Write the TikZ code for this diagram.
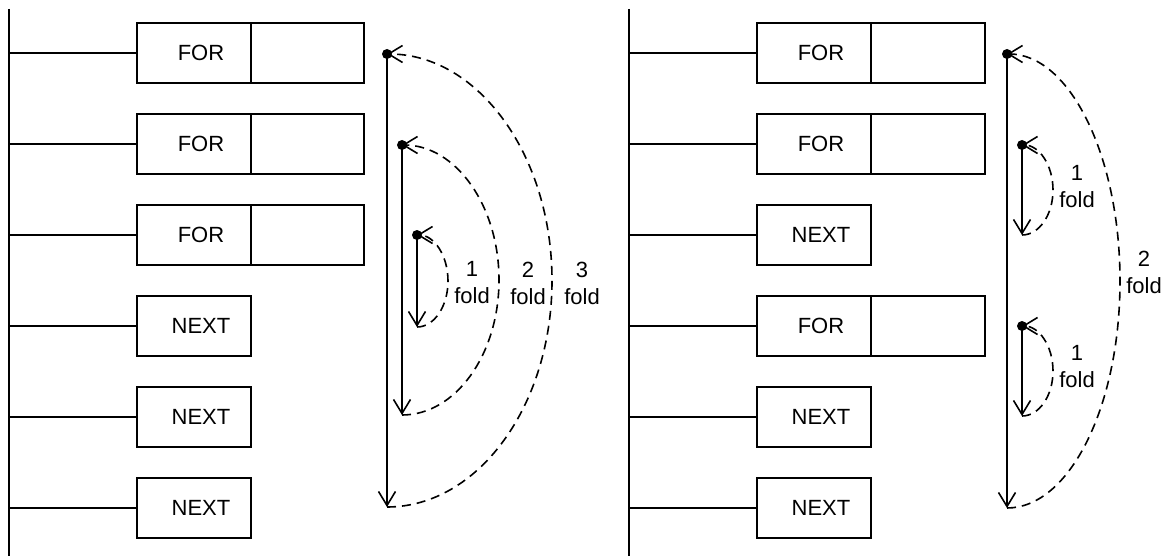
\documentclass[tikz,border=0pt]{standalone}
\usepackage{fontspec}
\setmainfont{Liberation Sans}
\usetikzlibrary{arrows.meta}
\begin{document}
\begin{tikzpicture}[x=1pt,y=1pt,
  every node/.style={font=\fontsize{22}{27}\selectfont},
  wire/.style={line width=1.6pt},
  cell/.style={draw,line width=1.6pt,minimum width=114pt,minimum height=60pt,inner sep=0pt,anchor=center},
  flow/.style={line width=1.6pt,-{Straight Barb[length=14pt,width=17pt,line width=1.6pt]}},
  back/.style={line width=1.6pt,dash pattern=on 9pt off 6pt,-{Straight Barb[length=14pt,width=17pt,line width=1.6pt]}},
  startdot/.style={circle,fill,inner sep=0pt,minimum size=10pt},
  lbl/.style={align=center,inner sep=0pt}]
\useasboundingbox (0,0) rectangle (1169,-556);
% ---------- left panel ----------
\coordinate (Lrt) at (9,-9);
\coordinate (Lrb) at (9,-556);
\draw[wire] (Lrt) -- (Lrb);
\foreach \i/\t/\f in {1/FOR/1,2/FOR/1,3/FOR/1,4/NEXT/0,5/NEXT/0,6/NEXT/0}{
  \pgfmathsetmacro{\yy}{-53-91*(\i-1)}
  \coordinate (Lr\i) at (9,\yy);
  \node[cell] (Lb\i) at (194,\yy) {\hspace{14pt}\t};
  \draw[wire] (Lr\i) -- (Lb\i.west);
  \ifnum\f=1
    \node[cell,minimum width=113pt] (Lc\i) at (307.5,\yy) {};
  \fi
}
% loops left
\coordinate (A3t) at (387,-54);  \coordinate (A3b) at (387,-507);
\coordinate (A2t) at (402,-145); \coordinate (A2b) at (402,-415);
\coordinate (A1t) at (417,-235); \coordinate (A1b) at (417,-327);
\draw[flow] (A3t) -- (A3b);
\draw[back] (A3b) arc[start angle=-90,end angle=90,x radius=165,y radius=226.5];
\draw[flow] (A2t) -- (A2b);
\draw[back] (A2b) arc[start angle=-90,end angle=90,x radius=97,y radius=135];
\draw[flow] (A1t) -- (A1b);
\draw[back] (A1b) arc[start angle=-90,end angle=90,x radius=31,y radius=46];
\node[startdot] (D3) at (A3t) {};
\node[startdot] (D2) at (A2t) {};
\node[startdot] (D1) at (A1t) {};
\node[lbl] (L1) at (472,-283) {1\\fold};
\node[lbl] (L2) at (528,-283) {2\\fold};
\node[lbl] (L3) at (582,-283) {3\\fold};
% ---------- right panel ----------
\coordinate (Rrt) at (629,-9);
\coordinate (Rrb) at (629,-556);
\draw[wire] (Rrt) -- (Rrb);
\foreach \i/\t/\f in {1/FOR/1,2/FOR/1,3/NEXT/0,4/FOR/1,5/NEXT/0,6/NEXT/0}{
  \pgfmathsetmacro{\yy}{-53-91*(\i-1)}
  \coordinate (Rr\i) at (629,\yy);
  \node[cell] (Rb\i) at (814,\yy) {\hspace{14pt}\t};
  \draw[wire] (Rr\i) -- (Rb\i.west);
  \ifnum\f=1
    \node[cell] (Rc\i) at (928,\yy) {};
  \fi
}
\coordinate (B2t) at (1007,-54);  \coordinate (B2b) at (1007,-508);
\coordinate (B1t) at (1022,-145); \coordinate (B1b) at (1022,-235);
\coordinate (C1t) at (1022,-326); \coordinate (C1b) at (1022,-416);
\draw[flow] (B2t) -- (B2b);
\draw[back] (B2b) arc[start angle=-90,end angle=90,x radius=113,y radius=227];
\draw[flow] (B1t) -- (B1b);
\draw[back] (B1b) arc[start angle=-90,end angle=90,x radius=31,y radius=45];
\draw[flow] (C1t) -- (C1b);
\draw[back] (C1b) arc[start angle=-90,end angle=90,x radius=31,y radius=45];
\node[startdot] (E2) at (B2t) {};
\node[startdot] (E1) at (B1t) {};
\node[startdot] (F1) at (C1t) {};
\node[lbl] (M1) at (1077,-187) {1\\fold};
\node[lbl] (M2) at (1077,-367) {1\\fold};
\node[lbl] (M3) at (1144,-272) {2\\fold};
\end{tikzpicture}
\end{document}
